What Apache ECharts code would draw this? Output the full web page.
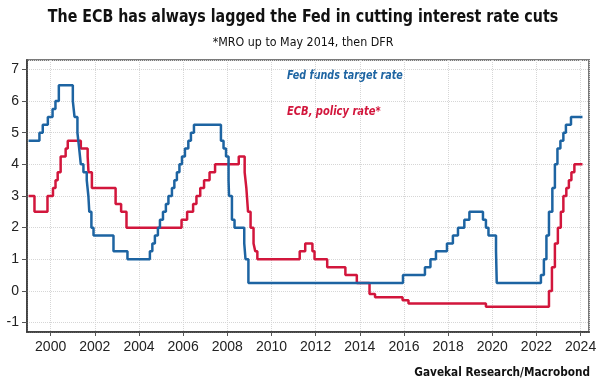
<!DOCTYPE html>
<html>
<head>
<meta charset="utf-8">
<script src="https://cdn.jsdelivr.net/npm/echarts@6/dist/echarts.min.js"></script>
<style>
html,body{margin:0;padding:0;background:#fff;}
#chart{width:606px;height:392px;}
</style>
</head>
<body>
<div id="chart"></div>
<script>
// Fed funds target rate (upper bound): [date of change, new rate]
const fedSteps = [
  ['1999-01-01',4.75],['1999-06-30',5.00],['1999-08-24',5.25],['1999-11-16',5.50],
  ['2000-02-02',5.75],['2000-03-21',6.00],['2000-05-16',6.50],
  ['2001-01-03',6.00],['2001-01-31',5.50],['2001-03-20',5.00],['2001-04-18',4.50],
  ['2001-05-15',4.00],['2001-06-27',3.75],['2001-08-21',3.50],['2001-09-17',3.00],
  ['2001-10-02',2.50],['2001-11-06',2.00],['2001-12-11',1.75],
  ['2002-11-06',1.25],['2003-06-25',1.00],
  ['2004-06-30',1.25],['2004-08-10',1.50],['2004-09-21',1.75],['2004-11-10',2.00],
  ['2004-12-14',2.25],['2005-02-02',2.50],['2005-03-22',2.75],['2005-05-03',3.00],
  ['2005-06-30',3.25],['2005-08-09',3.50],['2005-09-20',3.75],['2005-11-01',4.00],
  ['2005-12-13',4.25],['2006-01-31',4.50],['2006-03-28',4.75],['2006-05-10',5.00],
  ['2006-06-29',5.25],
  ['2007-09-18',4.75],['2007-10-31',4.50],['2007-12-11',4.25],['2008-01-22',3.50],
  ['2008-01-30',3.00],['2008-03-18',2.25],['2008-04-30',2.00],['2008-10-08',1.50],
  ['2008-10-29',1.00],['2008-12-16',0.25],
  ['2015-12-16',0.50],['2016-12-14',0.75],['2017-03-15',1.00],['2017-06-14',1.25],
  ['2017-12-13',1.50],['2018-03-21',1.75],['2018-06-13',2.00],['2018-09-26',2.25],
  ['2018-12-19',2.50],
  ['2019-07-31',2.25],['2019-09-18',2.00],['2019-10-30',1.75],['2020-03-03',1.25],
  ['2020-03-15',0.25],
  ['2022-03-16',0.50],['2022-05-04',1.00],['2022-06-15',1.75],['2022-07-27',2.50],
  ['2022-09-21',3.25],['2022-11-02',4.00],['2022-12-14',4.50],['2023-02-01',4.75],
  ['2023-03-22',5.00],['2023-05-03',5.25],['2023-07-26',5.50],['2024-02-01',5.50]
];

// ECB policy rate (MRO up to May 2014, then DFR): [date of change, new rate]
const ecbSteps = [
  ['1999-01-01',3.00],['1999-04-09',2.50],['1999-11-10',3.00],
  ['2000-02-09',3.25],['2000-03-22',3.50],['2000-04-27',3.75],['2000-06-15',4.25],
  ['2000-09-06',4.50],['2000-10-11',4.75],
  ['2001-05-15',4.50],['2001-09-05',4.25],['2001-09-19',3.75],['2001-11-14',3.25],
  ['2002-12-11',2.75],['2003-03-12',2.50],['2003-06-09',2.00],
  ['2005-12-06',2.25],['2006-03-08',2.50],['2006-06-15',2.75],['2006-08-09',3.00],
  ['2006-10-11',3.25],['2006-12-13',3.50],['2007-03-14',3.75],['2007-06-13',4.00],
  ['2008-07-09',4.25],['2008-10-15',3.75],['2008-11-12',3.25],['2008-12-10',2.50],
  ['2009-01-21',2.00],['2009-03-11',1.50],['2009-04-08',1.25],['2009-05-13',1.00],
  ['2011-04-13',1.25],['2011-07-13',1.50],['2011-11-09',1.25],['2011-12-14',1.00],
  ['2012-07-11',0.75],['2013-05-08',0.50],['2013-11-13',0.25],
  ['2014-06-11',-0.10],['2014-09-10',-0.20],['2015-12-09',-0.30],['2016-03-16',-0.40],
  ['2019-09-18',-0.50],
  ['2022-07-27',0.00],['2022-09-14',0.75],['2022-11-02',1.50],['2022-12-21',2.00],
  ['2023-02-08',2.50],['2023-03-22',3.00],['2023-05-10',3.25],['2023-06-21',3.50],
  ['2023-08-02',3.75],['2023-09-20',4.00],['2024-02-01',4.00]
];

const seriesNames = ['ECB, policy rate*', 'Fed funds target rate'];
const titleText = 'The ECB has always lagged the Fed in cutting interest rate cuts';
const subtitleText = '*MRO up to May 2014, then DFR';
const sourceText = 'Gavekal Research/Macrobond';

function toYear(s) {
  const p = s.split('-').map(Number);
  const y = p[0];
  const t0 = Date.UTC(y, 0, 1), t1 = Date.UTC(y + 1, 0, 1);
  return y + (Date.UTC(y, p[1] - 1, p[2]) - t0) / (t1 - t0);
}
const toData = arr => arr.map(d => [toYear(d[0]), d[1]]);

const BLUE = '#1d64a2';
const RED = '#d2163c';
const condensed = '"DejaVu Sans Condensed", "DejaVu Sans", sans-serif';
const tickFont = '"Liberation Sans", Arial, sans-serif';

const chart = echarts.init(document.getElementById('chart'), null, {renderer: 'canvas'});
chart.setOption({
  animation: false,
  backgroundColor: '#fff',
  grid: {left: 27, right: 17, top: 60, bottom: 60, show: true, borderColor: '#7a7a7a', borderWidth: 2, backgroundColor: 'transparent'},
  xAxis: {
    type: 'value', min: 1998.93, max: 2024.38, minInterval: 2, maxInterval: 2, splitNumber: 12,
    axisLine: {show: true, onZero: false, lineStyle: {color: '#333', width: 1.5}},
    axisTick: {show: true, length: 4, lineStyle: {color: '#555'}},
    axisLabel: {margin: 8, fontSize: 14, color: '#222', fontFamily: tickFont,
      showMinLabel: false, showMaxLabel: false,
      formatter: v => (Math.abs(v - Math.round(v)) < 1e-6 && Math.round(v) % 2 === 0) ? String(Math.round(v)) : ''},
    splitLine: {show: true, lineStyle: {color: '#d6d6d6', type: 'dotted', width: 1}}
  },
  yAxis: {
    type: 'value', min: -1.3, max: 7.3, minInterval: 1, maxInterval: 1, splitNumber: 8,
    axisLine: {show: true, onZero: false, lineStyle: {color: '#333', width: 1.5}},
    axisTick: {show: true, length: 5, lineStyle: {color: '#555'}},
    axisLabel: {margin: 8, fontSize: 14, color: '#222', fontFamily: tickFont,
      showMinLabel: false, showMaxLabel: false,
      formatter: v => (Math.abs(v - Math.round(v)) < 1e-6) ? String(Math.round(v)) : ''},
    splitLine: {show: true, lineStyle: {color: '#d6d6d6', type: 'dotted', width: 1}}
  },
  series: [
    {name: seriesNames[0], type: 'line', step: 'end', showSymbol: false, data: toData(ecbSteps),
     lineStyle: {color: RED, width: 2.5}, itemStyle: {color: RED}},
    {name: seriesNames[1], type: 'line', step: 'end', showSymbol: false, data: toData(fedSteps),
     lineStyle: {color: BLUE, width: 2.5}, itemStyle: {color: BLUE}}
  ],
  graphic: [
    {type: 'text', x: 303, y: 18, scaleX: 0.93,
     style: {text: titleText, font: 'bold 17px ' + condensed, fill: '#111', textAlign: 'center', textVerticalAlign: 'middle'}},
    {type: 'text', x: 303, y: 43, scaleX: 0.95,
     style: {text: subtitleText, font: '13px ' + condensed, fill: '#111', textAlign: 'center', textVerticalAlign: 'middle'}},
    {type: 'text', x: 287, y: 76, scaleX: 0.89,
     style: {text: seriesNames[1], font: 'italic bold 12px ' + condensed, fill: BLUE, textAlign: 'left', textVerticalAlign: 'middle'}},
    {type: 'text', x: 287, y: 112, scaleX: 0.92,
     style: {text: seriesNames[0], font: 'italic bold 12px ' + condensed, fill: RED, textAlign: 'left', textVerticalAlign: 'middle'}},
    {type: 'text', x: 590, y: 373, scaleX: 0.9,
     style: {text: sourceText, font: 'bold 13px ' + condensed, fill: '#111', textAlign: 'right', textVerticalAlign: 'middle'}}
  ]
});
</script>
</body>
</html>
